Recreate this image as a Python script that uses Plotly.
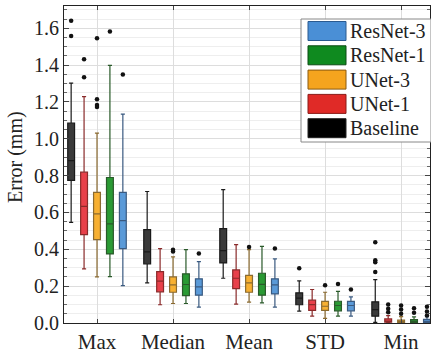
import plotly.graph_objects as go

categories = ["Max", "Median", "Mean", "STD", "Min"]
series_names = ["Baseline", "UNet-1", "UNet-3", "ResNet-1", "ResNet-3"]

baseline_q1 = [0.774, 0.321, 0.326, 0.099, 0.037]
baseline_med = [0.881, 0.386, 0.393, 0.135, 0.073]
baseline_q3 = [1.085, 0.507, 0.512, 0.164, 0.115]
baseline_lo = [0.546, 0.218, 0.243, 0.064, 0.003]
baseline_hi = [1.302, 0.714, 0.724, 0.229, 0.236]
baseline_out = [[1.641, 1.558], [], [], [0.297], [0.438, 0.340, 0.330, 0.277]]

unet1_q1 = [0.480, 0.169, 0.187, 0.069, 0.004]
unet1_med = [0.633, 0.227, 0.243, 0.100, 0.010]
unet1_q3 = [0.819, 0.279, 0.288, 0.124, 0.022]
unet1_lo = [0.294, 0.099, 0.102, 0.037, 0.0]
unet1_hi = [1.229, 0.404, 0.425, 0.182, 0.040]
unet1_out = [[1.432, 1.334], [], [], [], [0.100, 0.078, 0.058]]

unet3_q1 = [0.453, 0.167, 0.167, 0.068, 0.002]
unet3_med = [0.592, 0.207, 0.218, 0.091, 0.007]
unet3_q3 = [0.709, 0.250, 0.259, 0.117, 0.016]
unet3_lo = [0.250, 0.106, 0.113, 0.025, 0.0]
unet3_hi = [1.031, 0.359, 0.398, 0.167, 0.035]
unet3_out = [[1.546, 1.215, 1.183, 1.173], [0.398, 0.388], [0.413], [0.205], [0.095, 0.073, 0.050]]

resnet1_q1 = [0.375, 0.149, 0.151, 0.066, 0.003]
resnet1_med = [0.538, 0.209, 0.210, 0.095, 0.008]
resnet1_q3 = [0.790, 0.267, 0.270, 0.118, 0.018]
resnet1_lo = [0.252, 0.106, 0.109, 0.037, 0.0]
resnet1_hi = [1.399, 0.398, 0.416, 0.172, 0.033]
resnet1_out = [[1.582], [], [], [0.212], [0.080, 0.055]]

resnet3_q1 = [0.404, 0.151, 0.158, 0.066, 0.003]
resnet3_med = [0.556, 0.196, 0.207, 0.095, 0.009]
resnet3_q3 = [0.709, 0.240, 0.240, 0.117, 0.020]
resnet3_lo = [0.203, 0.086, 0.086, 0.037, 0.0]
resnet3_hi = [1.134, 0.333, 0.348, 0.142, 0.035]
resnet3_out = [[1.349], [0.377], [0.405], [0.182], [0.088, 0.062, 0.041]]

fills = ["#3a3a3a", "#e8404a", "#f7b032", "#2a9a34", "#5a9ad8"]
lines = ["#1a1a1a", "#8a2a2a", "#8a6a30", "#2a5a2a", "#3a5a80"]
legend_fills = ["#000000", "#e02a27", "#f5a41e", "#0f8a1f", "#4a8fd6"]
legend_lines = ["#222222", "#8a1a18", "#8a5a10", "#0a4a12", "#2a5a90"]
offsets = [-0.34, -0.17, 0.0, 0.17, 0.34]

stats = [
    (baseline_q1, baseline_med, baseline_q3, baseline_lo, baseline_hi, baseline_out),
    (unet1_q1, unet1_med, unet1_q3, unet1_lo, unet1_hi, unet1_out),
    (unet3_q1, unet3_med, unet3_q3, unet3_lo, unet3_hi, unet3_out),
    (resnet1_q1, resnet1_med, resnet1_q3, resnet1_lo, resnet1_hi, resnet1_out),
    (resnet3_q1, resnet3_med, resnet3_q3, resnet3_lo, resnet3_hi, resnet3_out),
]

FONT = "Liberation Serif, Times New Roman, serif"

fig = go.Figure()
for i, (name, st) in enumerate(zip(series_names, stats)):
    q1, med, q3, lo, hi, outs = st
    xs = [c + offsets[i] for c in range(len(categories))]
    fig.add_trace(go.Box(
        x=xs, q1=q1, median=med, q3=q3, lowerfence=lo, upperfence=hi,
        width=0.09, name=name, fillcolor=fills[i],
        line=dict(color=lines[i], width=1.2), whiskerwidth=0.6,
        showlegend=False, boxpoints=False,
    ))
    ox, oy = [], []
    for c, vals in enumerate(outs):
        for v in vals:
            ox.append(c + offsets[i])
            oy.append(v)
    fig.add_trace(go.Scatter(
        x=ox, y=oy, mode="markers",
        marker=dict(color="#111111", size=4.5), showlegend=False,
    ))

# manual legend (pixel -> paper conversion)
L, R, T, B = 64, 430, 6, 323


def px(p):
    return (p - L) / (R - L)


def py(p):
    return (B - p) / (B - T)


shapes = [dict(type="rect", xref="paper", yref="paper",
               x0=px(301), x1=px(431), y0=py(142), y1=py(19),
               line=dict(color="#888888", width=1), fillcolor="white", layer="above")]
annotations = []
legend_order = [4, 3, 2, 1, 0]
for row, idx in enumerate(legend_order):
    cy = 31 + row * 24.3
    shapes.append(dict(type="rect", xref="paper", yref="paper",
                       x0=px(308), x1=px(346), y0=py(cy + 9.5), y1=py(cy - 9.5),
                       line=dict(color=legend_lines[idx], width=1),
                       fillcolor=legend_fills[idx], layer="above"))
    annotations.append(dict(xref="paper", yref="paper", x=px(348), y=py(cy),
                            text=series_names[idx], showarrow=False,
                            xanchor="left", yanchor="middle",
                            font=dict(size=20, color="#222222", family=FONT)))

# y-axis title
annotations.append(dict(xref="paper", yref="paper", x=px(15), y=py(157),
                        text="Error (mm)", showarrow=False, textangle=-90,
                        xanchor="center", yanchor="middle",
                        font=dict(size=20, color="#222222", family=FONT)))

fig.update_layout(
    width=431, height=356,
    margin=dict(l=L, r=431 - R, t=T, b=356 - B),
    paper_bgcolor="white", plot_bgcolor="white",
    font=dict(family=FONT, size=20, color="#222222"),
    boxmode="overlay",
    shapes=shapes, annotations=annotations,
    xaxis=dict(
        automargin=False,
        range=[-0.434, 4.38], tickvals=list(range(len(categories))), ticktext=categories,
        tickfont=dict(size=21),
        ticks="inside", ticklen=4, tickcolor="#444", showline=True, linecolor="#222",
        linewidth=1.2, mirror="ticks", showgrid=True, gridcolor="#dddddd", zeroline=False,
    ),
    yaxis=dict(
        automargin=False,
        range=[0, 1.721], dtick=0.2, tickformat=".1f", ticks="inside", ticklen=5,
        tickcolor="#444", showline=True, linecolor="#222", linewidth=1.2, mirror="ticks",
        showgrid=True, gridcolor="#dddddd", zeroline=False,
        minor=dict(dtick=0.05, ticks="inside", ticklen=3, tickcolor="#666",
                   showgrid=True, gridcolor="#eeeeee"),
    ),
)

fig.write_html("out.html", config={"displayModeBar": False},
               post_script="document.body.style.margin='0';")
